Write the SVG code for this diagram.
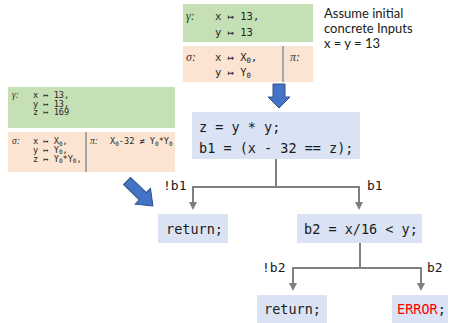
<svg xmlns="http://www.w3.org/2000/svg" width="450" height="323" viewBox="0 0 450 323">
<style>
.g{fill:#C5E0B4}
.o{fill:#FCE4D2}
.n{fill:#DAE3F3}
.div{stroke:#A6A6A6;stroke-width:2}
.m{font-family:"DejaVu Sans Mono",monospace;fill:#262626}
.s{font-size:10.5px}
.t{font-size:8.6px}
.c{font-size:13.5px;fill:#1a1a1a}
.gr{font-family:"Liberation Serif",serif;font-style:italic;fill:#333}
.lbl{font-family:"DejaVu Sans Mono",monospace;font-size:13px;fill:#1a1a1a}
.note{font-family:Lato,"Liberation Sans",sans-serif;font-size:13px;fill:#1a1a1a}
.con{stroke:#7F7F7F;stroke-width:2;fill:none}
.big{fill:#4472C4;stroke:#2F528F;stroke-width:1}
.sub{font-size:70%}
</style>
<defs>
<marker id="ah" markerWidth="4" markerHeight="4" refX="2" refY="2" orient="auto" markerUnits="strokeWidth">
<path d="M0,0 L4,2 L0,4 z" fill="#7F7F7F"/>
</marker>
</defs>

<g id="state-top">
<rect class="g" x="183" y="4" width="130" height="38"/>
<rect class="o" x="183" y="46" width="130" height="36"/>
<line class="div" x1="283" y1="46" x2="283" y2="82"/>
<text class="gr" x="186" y="20" font-size="12">γ:</text>
<text class="m s" x="215" y="20">x ↦ 13,</text>
<text class="m s" x="215" y="36">y ↦ 13</text>
<text class="gr" x="186" y="61" font-size="12">σ:</text>
<text class="m s" x="215" y="61">x ↦ X<tspan class="sub" dy="2">0</tspan><tspan dy="-2">,</tspan></text>
<text class="m s" x="215" y="76">y ↦ Y<tspan class="sub" dy="2">0</tspan></text>
<text class="gr" x="290" y="61" font-size="12">π:</text>
</g>

<g id="note">
<text class="note" x="324" y="18">Assume initial</text>
<text class="note" x="324" y="33">concrete Inputs</text>
<text class="note" x="324" y="48">x = y = 13</text>
</g>

<g id="state-left">
<rect class="g" x="8" y="87" width="167" height="41"/>
<rect class="o" x="8" y="132" width="167" height="40"/>
<line class="div" x1="86" y1="132" x2="86" y2="172"/>
<text class="gr" x="12" y="98" font-size="9.5">γ:</text>
<text class="m t" x="33" y="98">x ↦ 13,</text>
<text class="m t" x="33" y="106.5">y ↦ 13,</text>
<text class="m t" x="33" y="115">z ↦ 169</text>
<text class="gr" x="12" y="144" font-size="9.5">σ:</text>
<text class="m t" x="33" y="144">x ↦ X<tspan class="sub" dy="1.5">0</tspan><tspan dy="-1.5">,</tspan></text>
<text class="m t" x="33" y="152.7">y ↦ Y<tspan class="sub" dy="1.5">0</tspan><tspan dy="-1.5">,</tspan></text>
<text class="m t" x="33" y="161.5">z ↦ Y<tspan class="sub" dy="1.5">0</tspan><tspan dy="-1.5">*Y</tspan><tspan class="sub" dy="1.5">0</tspan><tspan dy="-1.5">,</tspan></text>
<text class="gr" x="90" y="144" font-size="9.5">π:</text>
<text class="m t" x="110" y="144">X<tspan class="sub" dy="1.5">0</tspan><tspan dy="-1.5">-32 ≠ Y</tspan><tspan class="sub" dy="1.5">0</tspan><tspan dy="-1.5">*Y</tspan><tspan class="sub" dy="1.5">0</tspan></text>
</g>

<g id="arrow-down">
<path class="big" d="M273,84 H285 V97 H290 L279,108 L268,97 H273 Z"/>
</g>
<g id="arrow-diag">
<path class="big" transform="translate(127,181) rotate(44)" d="M0,-5 H22 V-11 L36,0 L22,11 V5 H0 Z"/>
</g>

<g id="n-main">
<rect class="n" x="192" y="112" width="168" height="47"/>
<text class="m c" x="199" y="132">z = y * y;</text>
<text class="m c" x="199" y="153">b1 = (x - 32 == z);</text>
</g>
<g id="n-ret1">
<rect class="n" x="158" y="214" width="70" height="29"/>
<text class="m c" x="166" y="234">return;</text>
</g>
<g id="n-b2">
<rect class="n" x="297" y="214" width="125" height="29"/>
<text class="m c" x="304" y="234">b2 = x/16 &lt; y;</text>
</g>
<g id="n-ret2">
<rect class="n" x="257" y="295" width="70" height="28"/>
<text class="m c" x="264" y="314">return;</text>
</g>
<g id="n-err">
<rect class="n" x="392" y="295" width="56" height="28"/>
<text class="m c" x="397" y="314"><tspan fill="#FF0000">ERROR</tspan>;</text>
</g>

<g id="connectors">
<polyline class="con" points="276,159 276,187 193,187 193,206" marker-end="url(#ah)"/>
<polyline class="con" points="276,187 359,187 359,206" marker-end="url(#ah)"/>
<polyline class="con" points="360,243 360,268 293,268 293,287" marker-end="url(#ah)"/>
<polyline class="con" points="360,268 421,268 421,287" marker-end="url(#ah)"/>
<text class="lbl" x="163" y="190">!b1</text>
<text class="lbl" x="367" y="190">b1</text>
<text class="lbl" x="262" y="272">!b2</text>
<text class="lbl" x="427" y="272">b2</text>
</g>
</svg>
